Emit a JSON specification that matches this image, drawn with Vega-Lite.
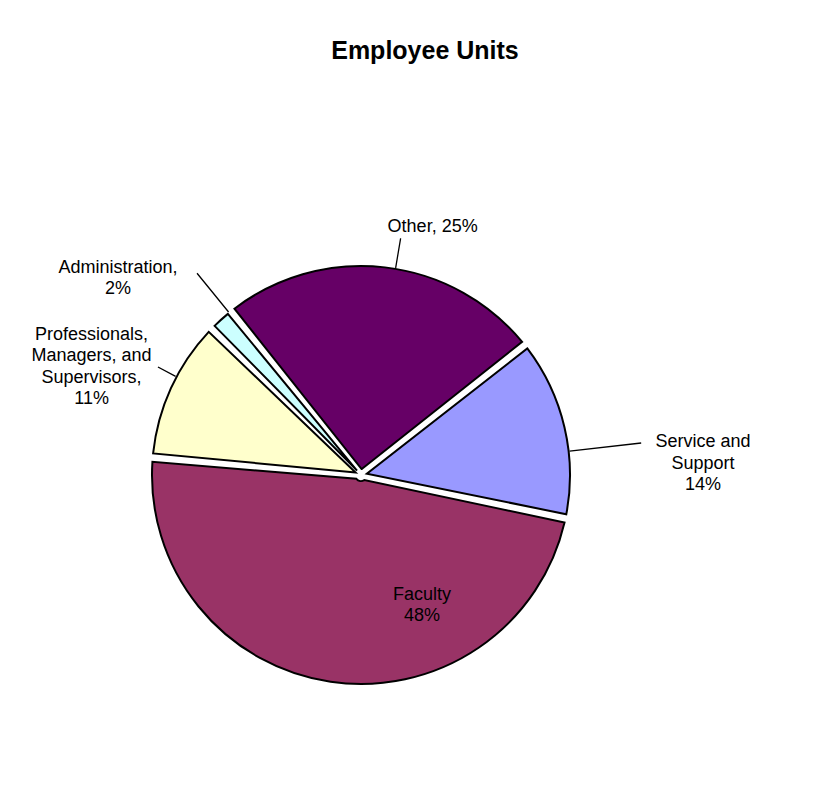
{
  "$schema": "https://vega.github.io/schema/vega-lite/v6.json",
  "autosize": {"type": "none"},
  "padding": {"left": 8, "top": 162, "right": 114, "bottom": 0},
  "width": 706,
  "height": 626,
  "background": "white",
  "config": {"view": {"stroke": null}, "text": {"font": "Liberation Sans"}},
  "title": {
    "text": "Employee Units",
    "font": "Liberation Sans",
    "fontSize": 25,
    "fontWeight": "bold",
    "color": "black",
    "anchor": "middle",
    "frame": "group",
    "offset": 98,
    "dx": 64
  },
  "data": {
    "values": [
      {"unit": "Faculty", "value": 48, "label": "Faculty\n48%"},
      {"unit": "Professionals, Managers, and Supervisors", "value": 11, "label": "Professionals,\nManagers, and\nSupervisors,\n11%"},
      {"unit": "Administration", "value": 2, "label": "Administration,\n2%"},
      {"unit": "Other", "value": 25, "label": "Other, 25%"},
      {"unit": "Service and Support", "value": 14, "label": "Service and\nSupport\n14%"}
    ]
  },
  "transform": [{"window": [{"op": "row_number", "as": "seq"}]}],
  "encoding": {
    "theta": {"field": "value", "type": "quantitative", "stack": true, "scale": {"domain": [0, 100], "range": [1.78, 8.063]}},
    "order": {"field": "seq", "type": "quantitative"},
    "detail": {"field": "unit", "type": "nominal"}
  },
  "layer": [
    {
      "mark": {"type": "arc", "outerRadius": 209, "innerRadius": 6, "padAngle": 0.04, "stroke": "black", "strokeWidth": 2, "strokeJoin": "miter"},
      "encoding": {
        "color": {
          "field": "unit", "type": "nominal", "legend": null,
          "scale": {
            "domain": ["Faculty", "Professionals, Managers, and Supervisors", "Administration", "Other", "Service and Support"],
            "range": ["#993366", "#FFFFCC", "#CCFFFF", "#660066", "#9999FF"]
          }
        }
      }
    },
    {
      "mark": {"type": "arc", "filled": false, "stroke": "black", "strokeWidth": 1.3, "innerRadius": 210, "outerRadius": 240, "padAngle": 4, "thetaOffset": 0.051},
      "encoding": {"strokeOpacity": {"condition": {"test": "datum.unit === 'Other'", "value": 1}, "value": 0}}
    },
    {
      "mark": {"type": "arc", "filled": false, "stroke": "black", "strokeWidth": 1.3, "innerRadius": 210, "outerRadius": 282, "padAngle": 4, "thetaOffset": 0.117},
      "encoding": {"strokeOpacity": {"condition": {"test": "datum.unit === 'Service and Support'", "value": 1}, "value": 0}}
    },
    {
      "mark": {"type": "arc", "filled": false, "stroke": "black", "strokeWidth": 1.3, "innerRadius": 210, "outerRadius": 260, "padAngle": 4, "thetaOffset": 0.051},
      "encoding": {"strokeOpacity": {"condition": {"test": "datum.unit === 'Administration'", "value": 1}, "value": 0}}
    },
    {
      "mark": {"type": "arc", "filled": false, "stroke": "black", "strokeWidth": 1.3, "innerRadius": 210, "outerRadius": 230, "padAngle": 4, "thetaOffset": 0.06},
      "encoding": {"strokeOpacity": {"condition": {"test": "datum.unit === 'Professionals, Managers, and Supervisors'", "value": 1}, "value": 0}}
    },
    {
      "mark": {"type": "text", "radius": 250, "dx": 43, "dy": 0, "fontSize": 18, "lineBreak": "\n", "lineHeight": 21.5, "align": "center", "baseline": "middle", "color": "black"},
      "encoding": {"text": {"condition": {"test": "datum.unit === 'Other'", "field": "label"}, "value": ""}}
    },
    {
      "mark": {"type": "text", "radius": 300, "dx": 50, "dy": 36, "fontSize": 18, "lineBreak": "\n", "lineHeight": 21.5, "align": "center", "baseline": "middle", "color": "black"},
      "encoding": {"text": {"condition": {"test": "datum.unit === 'Service and Support'", "field": "label"}, "value": ""}}
    },
    {
      "mark": {"type": "text", "radius": 260, "dx": -69, "dy": -14, "fontSize": 18, "lineBreak": "\n", "lineHeight": 21.5, "align": "center", "baseline": "middle", "color": "black"},
      "encoding": {"text": {"condition": {"test": "datum.unit === 'Administration'", "field": "label"}, "value": ""}}
    },
    {
      "mark": {"type": "text", "radius": 260, "dx": -33, "dy": -32, "fontSize": 18, "lineBreak": "\n", "lineHeight": 21.5, "align": "center", "baseline": "middle", "color": "black"},
      "encoding": {"text": {"condition": {"test": "datum.unit === 'Professionals, Managers, and Supervisors'", "field": "label"}, "value": ""}}
    },
    {
      "mark": {"type": "text", "radius": 130, "dx": 80, "dy": -9, "fontSize": 18, "lineBreak": "\n", "lineHeight": 21.5, "align": "center", "baseline": "middle", "color": "black"},
      "encoding": {"text": {"condition": {"test": "datum.unit === 'Faculty'", "field": "label"}, "value": ""}}
    }
  ]
}
